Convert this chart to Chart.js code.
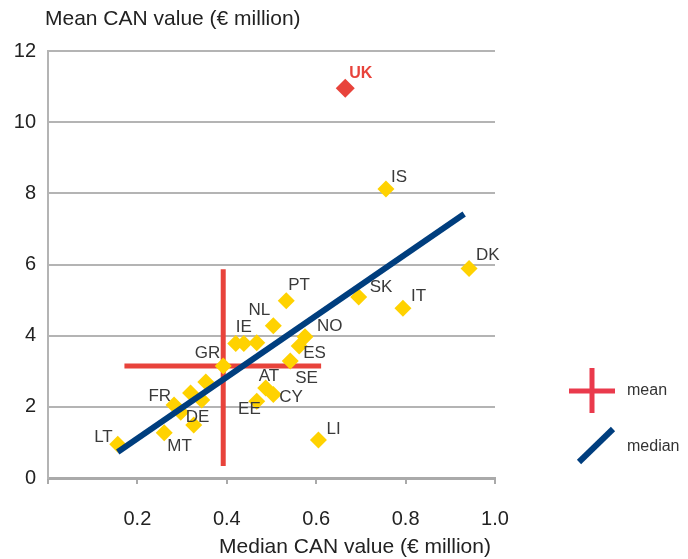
<!DOCTYPE html>
<html>
<head>
<meta charset="utf-8">
<script src="https://cdn.jsdelivr.net/npm/chart.js@4/dist/chart.umd.min.js"></script>
<style>
html,body{margin:0;padding:0;background:#fff;}
canvas{display:block;}
</style>
</head>
<body>
<canvas id="c" width="688" height="559"></canvas>
<script>
// ---- data ----
const countries = ["IS","DK","IT","SK","PT","NL","NO","ES","SE","IE","","","GR","","","","FR","","DE","MT","LT","AT","CY","EE","LI"];
const medianValues = [0.756,0.942,0.794,0.695,0.533,0.504,0.575,0.562,0.542,0.420,0.438,0.467,0.392,0.353,0.319,0.344,0.282,0.297,0.326,0.260,0.156,0.487,0.504,0.467,0.605];
const meanValues   = [8.12,5.89,4.77,5.09,4.98,4.28,3.97,3.71,3.29,3.78,3.78,3.80,3.15,2.70,2.39,2.19,2.05,1.85,1.49,1.27,0.95,2.53,2.35,2.16,1.07];
const ukLabel = "UK";
const ukMedian = 0.665;
const ukMean = 10.95;
const meanCrossX = 0.392;
const meanCrossY = 3.15;
const meanCrossYRange = [0.34, 5.87];
const meanCrossXRange = [0.171, 0.611];
const medianLineX = [0.156, 0.931];
const medianLineY = [0.73, 7.42];
const xTicks = [0.2,0.4,0.6,0.8,1.0];
const yTicks = [0,2,4,6,8,10,12];
const yTitle = "Mean CAN value (€ million)";
const xTitle = "Median CAN value (€ million)";
const legendLabels = ["mean","median"];

// label offsets (styling only)
const labelPos = {
  IS:[5,-12,'left'], DK:[7,-13,'left'], IT:[8,-12,'left'], SK:[11,-10,'left'],
  PT:[2,-15,'left'], NL:[-3,-15,'right'], NO:[12,-10,'left'], ES:[4,7,'left'],
  SE:[5,17,'left'], IE:[0,-16,'left'], GR:[-3,-13,'right'], FR:[-3,-9,'right'],
  DE:[-8,-8,'left'], MT:[3,14,'left'], LT:[-5,-7,'right'], AT:[-7,-12,'left'],
  CY:[6,3,'left'], EE:[4,8,'right'], LI:[8,-11,'left']
};

const FONT = "'Liberation Sans', Arial, sans-serif";
const RED = '#e8433b';
const NAVY = '#003e7e';
const YELLOW = '#ffd200';

const pts = countries.map((c,i)=>({x:medianValues[i], y:meanValues[i], label:c}));

const labelPlugin = {
  id:'labels',
  afterDatasetsDraw(chart){
    const ctx = chart.ctx;
    const xs = chart.scales.x, ys = chart.scales.y;
    ctx.save();
    ctx.textBaseline = 'middle';
    ctx.font = "17px " + FONT;
    ctx.fillStyle = '#3a3a3a';
    pts.forEach(p=>{
      if(!p.label) return;
      const o = labelPos[p.label] || [5,-12,'left'];
      ctx.textAlign = o[2];
      ctx.fillText(p.label, xs.getPixelForValue(p.x)+o[0], ys.getPixelForValue(p.y)+o[1]);
    });
    // UK label
    ctx.font = "bold 16px " + FONT;
    ctx.fillStyle = RED;
    ctx.textAlign = 'left';
    ctx.fillText(ukLabel, xs.getPixelForValue(ukMedian)+4, ys.getPixelForValue(ukMean)-15);
    // axis titles
    ctx.font = "21px " + FONT;
    ctx.fillStyle = '#222';
    ctx.textAlign = 'left';
    ctx.fillText(yTitle, 45, 19);
    ctx.textAlign = 'center';
    ctx.fillText(xTitle, 355, 547);
    // legend
    ctx.lineCap = 'butt';
    ctx.strokeStyle = '#ea3a4c';
    ctx.lineWidth = 5;
    ctx.beginPath();
    ctx.moveTo(569,391); ctx.lineTo(615,391);
    ctx.moveTo(592,368); ctx.lineTo(592,413);
    ctx.stroke();
    ctx.strokeStyle = NAVY;
    ctx.lineWidth = 6;
    ctx.beginPath();
    ctx.moveTo(579,462); ctx.lineTo(613,429);
    ctx.stroke();
    ctx.font = "16px " + FONT;
    ctx.fillStyle = '#333';
    ctx.textAlign = 'left';
    ctx.fillText(legendLabels[0], 627, 391);
    ctx.fillText(legendLabels[1], 627, 447);
    ctx.restore();
  }
};

new Chart(document.getElementById('c'), {
  type:'scatter',
  data:{
    datasets:[
      {type:'line', data: medianLineX.map((x,i)=>({x, y:medianLineY[i]})), borderColor:NAVY, borderWidth:6, pointRadius:0, order:0, borderCapStyle:'butt'},
      {data:[{x:ukMedian,y:ukMean}], pointStyle:'rectRot', pointRadius:9.5, pointHoverRadius:9.5, backgroundColor:RED, borderWidth:0, order:1},
      {data:pts, pointStyle:'rectRot', pointRadius:8.5, pointHoverRadius:8.5, backgroundColor:YELLOW, borderWidth:0, order:1},
      {type:'line', data:[{x:meanCrossX,y:meanCrossYRange[0]},{x:meanCrossX,y:meanCrossYRange[1]}], borderColor:RED, borderWidth:5, pointRadius:0, order:2},
      {type:'line', data:[{x:meanCrossXRange[0],y:meanCrossY},{x:meanCrossXRange[1],y:meanCrossY}], borderColor:RED, borderWidth:5, pointRadius:0, order:2}
    ]
  },
  options:{
    responsive:false,
    animation:false,
    layout:{padding:{top:51,right:193,left:0,bottom:0}},
    plugins:{legend:{display:false}, tooltip:{enabled:false}, title:{display:false}},
    scales:{
      x:{
        type:'linear', min:0, max:1,
        afterBuildTicks(s){ s.ticks = [0].concat(xTicks).map(v=>({value:v})); },
        afterFit(s){ s.height = 81; },
        ticks:{ callback:v=> v===0 ? '' : v.toFixed(1), color:'#222', font:{family:FONT, size:20}, padding:23, maxRotation:0, autoSkip:false},
        grid:{ drawOnChartArea:false, drawTicks:true, tickLength:6, color:'#aaa', lineWidth:2},
        border:{ color:'#aaa', width:3 }
      },
      y:{
        type:'linear', min:0, max:12,
        afterBuildTicks(s){ s.ticks = yTicks.map(v=>({value:v})); },
        afterFit(s){ s.width = 48; },
        ticks:{ color:'#222', font:{family:FONT, size:20}, padding:12 },
        grid:{ color:'#b4b4b4', lineWidth:2, drawTicks:false },
        border:{ color:'#b4b4b4', width:2 }
      }
    }
  },
  plugins:[labelPlugin]
});
</script>
</body>
</html>
